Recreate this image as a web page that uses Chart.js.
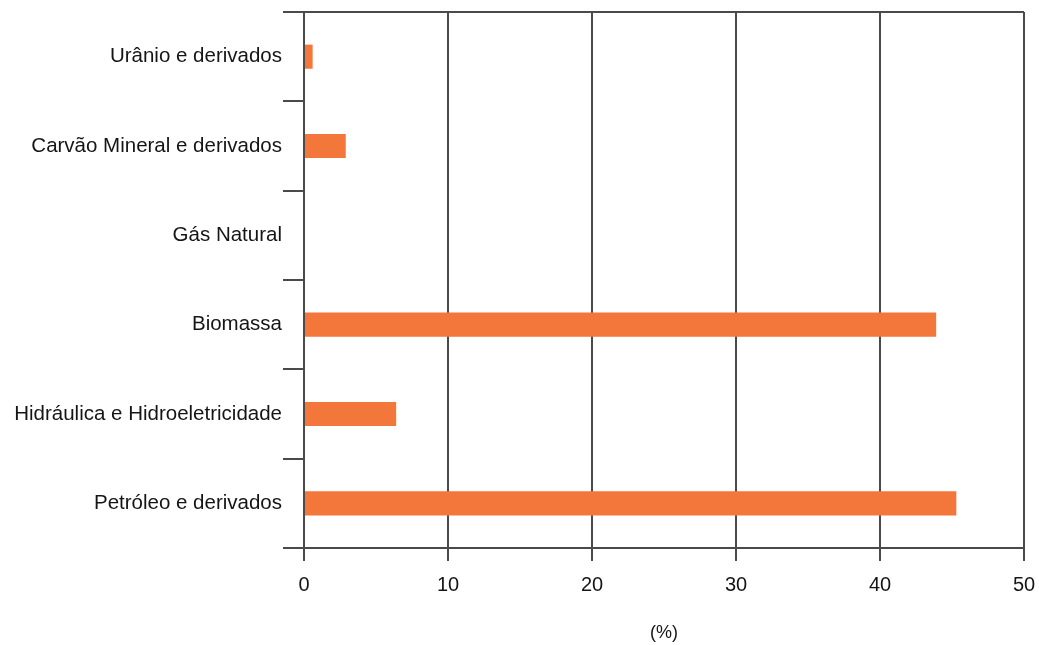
<!DOCTYPE html>
<html>
<head>
<meta charset="utf-8">
<script src="https://cdn.jsdelivr.net/npm/chart.js@4"></script>
<style>
  html, body { margin: 0; padding: 0; background: #fff; }
  #wrap { width: 1039px; height: 645px; }
</style>
</head>
<body>
<div id="wrap"><canvas id="grafico" width="1039" height="645"></canvas></div>
<script>
const categorias = [
    'Urânio e derivados',
    'Carvão Mineral e derivados',
    'Gás Natural',
    'Biomassa',
    'Hidráulica e Hidroeletricidade',
    'Petróleo e derivados'
];
const valores = [0.6, 2.9, 0, 43.9, 6.4, 45.3];
const ticksX = [0, 10, 20, 30, 40, 50];
const tituloX = '(%)';

const corLinha = '#4a4a4a';
const corTexto = '#151515';
const fonte = '"Liberation Sans", Arial, Helvetica, sans-serif';

const ctx = document.getElementById('grafico').getContext('2d');
new Chart(ctx, {
    type: 'bar',
    data: {
        labels: categorias,
        datasets: [
            {
                data: valores,
                backgroundColor: 'rgb(243, 118, 58)',
                borderWidth: 0,
                categoryPercentage: 1,
                barPercentage: 0.27,
            },
        ],
    },
    options: {
        indexAxis: 'y',
        responsive: false,
        animation: false,
        layout: {
            padding: { top: 12, right: 15, bottom: 0, left: 0 }
        },
        plugins: {
            legend: { display: false },
            tooltip: { enabled: false },
        },
        scales: {
            x: {
                type: 'linear',
                min: 0,
                max: 50,
                afterBuildTicks: (scale) => {
                    scale.ticks = ticksX.map(v => ({ value: v }));
                },
                ticks: {
                    color: corTexto,
                    padding: 12,
                    font: { family: fonte, size: 20 },
                },
                grid: {
                    color: corLinha,
                    lineWidth: 2,
                    tickLength: 13,
                },
                border: { display: true, color: corLinha, width: 2 },
                title: {
                    display: true,
                    text: tituloX,
                    color: corTexto,
                    font: { family: fonte, size: 18 },
                    padding: { top: 0, bottom: 1 },
                },
                afterFit: (scale) => {
                    scale.height = 97;
                    scale.paddingLeft = 0;
                    scale.paddingRight = 0;
                },
            },
            y: {
                ticks: {
                    color: corTexto,
                    padding: 1,
                    font: { family: fonte, size: 20.5 },
                },
                grid: {
                    offset: true,
                    // only the top line crosses the plot, the rest are just tick marks
                    color: (c) => c.index === 0 ? corLinha : 'rgba(0,0,0,0)',
                    tickColor: corLinha,
                    lineWidth: 2,
                    tickLength: 21,
                },
                border: { display: true, color: corLinha, width: 2 },
                afterFit: (scale) => {
                    scale.width = 304;
                    scale.paddingTop = 0;
                    scale.paddingBottom = 0;
                },
            },
        },
    },
});
</script>
</body>
</html>
